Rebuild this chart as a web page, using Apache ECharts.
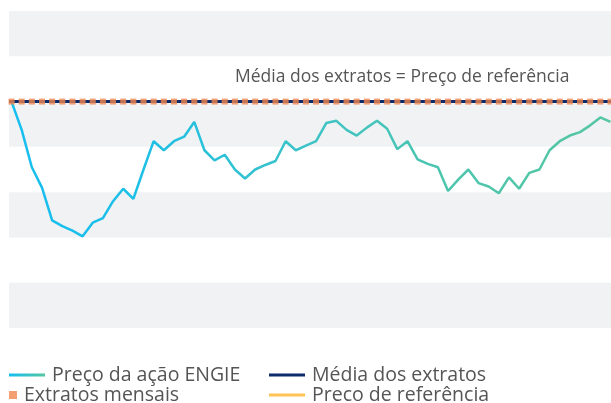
<!DOCTYPE html>
<html>
<head>
<meta charset="utf-8">
<script src="https://cdn.jsdelivr.net/npm/echarts@6/dist/echarts.min.js"></script>
<style>
  html, body { margin: 0; padding: 0; background: #fff; }
  #chart { width: 611px; height: 403px; }
</style>
</head>
<body>
<div id="chart"></div>
<script>
// preço da ação (base 100 = preço de referência), 60 pontos mensais
var precoAcao = [
  100, 97.5, 94.2, 92.4, 89.5, 89.0, 88.6, 88.1, 89.3, 89.7,
  91.2, 92.3, 91.4, 94.0, 96.5, 95.7, 96.5, 96.9, 98.2, 95.7,
  94.8, 95.3, 94.0, 93.2, 94.0, 94.4, 94.75, 96.5, 95.7, 96.1,
  96.5, 98.1, 98.3, 97.5, 97.0, 97.7, 98.3, 97.6, 95.8, 96.5,
  94.9, 94.5, 94.2, 92.1, 93.1, 94.0, 92.8, 92.5, 91.9, 93.3,
  92.3, 93.7, 94.0, 95.7, 96.5, 97.0, 97.3, 97.9, 98.6, 98.2
];
var extratosMensais = [
  100, 100, 100, 100, 100, 100, 100, 100, 100, 100,
  100, 100, 100, 100, 100, 100, 100, 100, 100, 100,
  100, 100, 100, 100, 100, 100, 100, 100, 100, 100,
  100, 100, 100, 100, 100, 100, 100, 100, 100, 100,
  100, 100, 100, 100, 100, 100, 100, 100, 100, 100,
  100, 100, 100, 100, 100, 100, 100, 100, 100, 100
];
var precoReferencia = 100;
var mediaExtratos = extratosMensais.reduce(function (a, b) { return a + b; }, 0) / extratosMensais.length;

var nomes = ["Preço da ação ENGIE", "Média dos extratos", "Extratos mensais", "Preco de referência"];
var anotacao = "Média dos extratos = Preço de referência";

var gradiente = new echarts.graphic.LinearGradient(0, 0, 1, 0, [
  { offset: 0, color: "#16bef0" },
  { offset: 0.22, color: "#1cbfe6" },
  { offset: 0.48, color: "#3cc3c8" },
  { offset: 0.73, color: "#4dc5ad" },
  { offset: 1, color: "#55c6a2" }
]);
var gradienteLegenda = new echarts.graphic.LinearGradient(0, 0, 1, 0, [
  { offset: 0, color: "#16bef0" },
  { offset: 1, color: "#55c6a2" }
]);

var fonte = "'Open Sans', 'Noto Sans', sans-serif";
var legendText = { color: "#555", fontSize: 19.5, fontFamily: fonte, padding: [0, 0, 0, 2] };

var chart = echarts.init(document.getElementById("chart"));
chart.setOption({
  animation: false,
  grid: { left: 9, right: 0, top: 11, bottom: 75 },
  xAxis: {
    type: "value",
    min: -0.25,
    max: 59.05,
    show: false,
    splitLine: { show: false }
  },
  yAxis: {
    type: "value",
    min: 80,
    max: 108,
    interval: 4,
    axisLabel: { show: false },
    axisLine: { show: false },
    axisTick: { show: false },
    splitLine: { show: false },
    splitArea: {
      show: true,
      areaStyle: { color: ["#f0f2f4", "rgba(255,255,255,0)"] }
    }
  },
  legend: [
    {
      left: 9, top: 365, padding: 0, itemWidth: 36, itemHeight: 3, textStyle: legendText,
      data: [{ name: nomes[0], icon: "rect", itemStyle: { color: gradienteLegenda } }]
    },
    {
      left: 269, top: 365, padding: 0, itemWidth: 36, itemHeight: 3, textStyle: legendText,
      data: [{ name: nomes[1], icon: "rect" }]
    },
    {
      left: 9, top: 385, padding: 0, itemWidth: 8, itemHeight: 8, textStyle: legendText,
      data: [{ name: nomes[2], icon: "rect" }]
    },
    {
      left: 269, top: 385, padding: 0, itemWidth: 36, itemHeight: 3, textStyle: legendText,
      data: [{ name: nomes[3], icon: "rect" }]
    }
  ],
  graphic: [
    {
      type: "text",
      left: 235,
      top: 68,
      z: 100,
      style: { text: anotacao, fill: "#555", fontSize: 17.5, fontFamily: fonte }
    }
  ],
  series: [
    {
      name: nomes[3],
      type: "line",
      data: [],
      color: "#ffc354",
      z: 2,
      markLine: {
        silent: true,
        symbol: "none",
        label: { show: false },
        lineStyle: { color: "#ffc354", width: 3, type: "solid" },
        data: [{ yAxis: precoReferencia }]
      }
    },
    {
      name: nomes[1],
      type: "line",
      data: [],
      color: "#0d2a6b",
      z: 3,
      markLine: {
        silent: true,
        symbol: "none",
        label: { show: false },
        lineStyle: { color: "#0d2a6b", width: 3, type: "solid" },
        data: [{ yAxis: mediaExtratos }]
      }
    },
    {
      name: nomes[0],
      type: "line",
      data: precoAcao.map(function (v, i) { return [i, v]; }),
      showSymbol: false,
      z: 4,
      itemStyle: { color: gradiente },
      lineStyle: { color: gradiente, width: 2.5 }
    },
    {
      name: nomes[2],
      type: "scatter",
      data: extratosMensais.map(function (v, i) { return [i, v]; }),
      symbol: "rect",
      symbolSize: 6,
      z: 5,
      itemStyle: { color: "#f0874f" }
    }
  ]
});
</script>
</body>
</html>
